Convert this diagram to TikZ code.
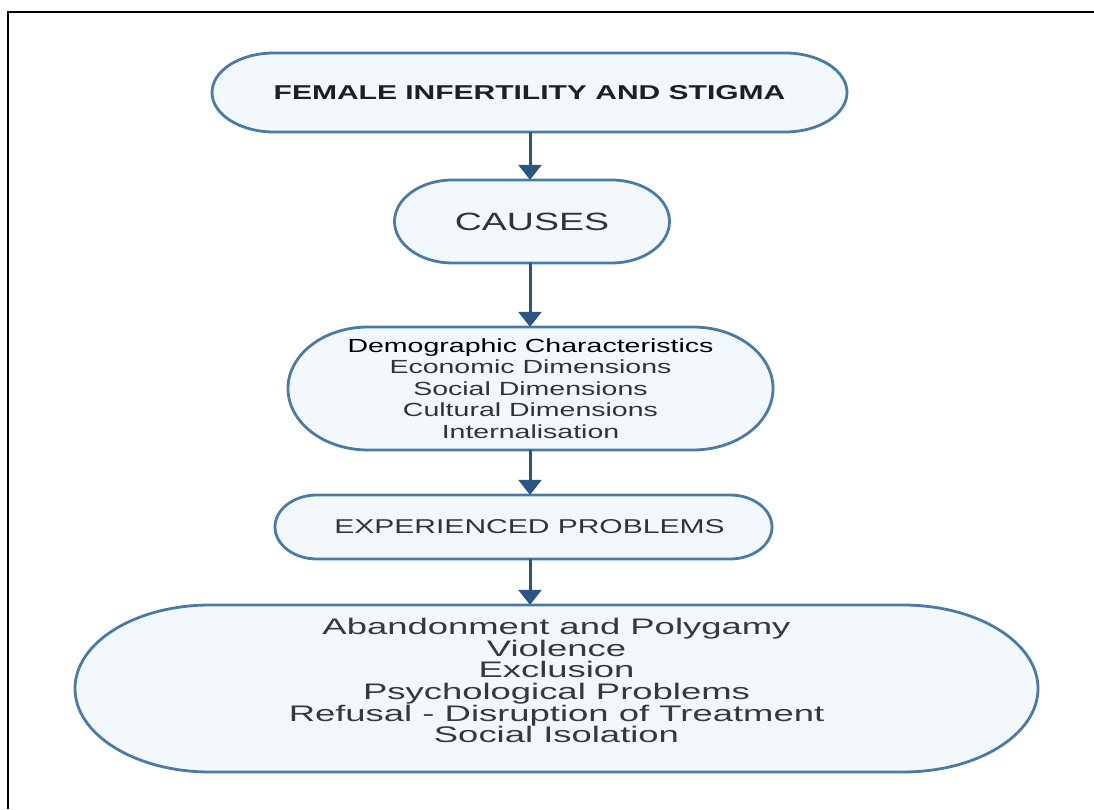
\documentclass[tikz,border=0pt]{standalone}
\usepackage{fontspec}
\setmainfont{Liberation Sans}[FakeStretch=1.5]
\newfontfamily\widefont{Liberation Sans}[FakeStretch=1.62]
\usetikzlibrary{arrows.meta}
\definecolor{edgec}{HTML}{4A7BA6}
\definecolor{arrowc}{HTML}{2B5584}
\definecolor{fillc}{HTML}{F3F8FC}
\definecolor{txtc}{HTML}{333333}
% cx, cy, half width, half height, end radius
\newcommand\stadium[5]{%
  \filldraw[stad] (#1-#3+#5,#2+#4) -- (#1+#3-#5,#2+#4)
    arc[start angle=90,end angle=-90,x radius=#5pt,y radius=#4pt]
    -- (#1-#3+#5,#2-#4)
    arc[start angle=270,end angle=90,x radius=#5pt,y radius=#4pt] -- cycle;}
\begin{document}
\begin{tikzpicture}[x=1pt,y=1pt,
  stad/.style={draw=edgec, fill=fillc, line width=2.8pt},
  lbl/.style={draw=none, fill=none, inner sep=0pt, align=center, text=txtc},
  arr/.style={draw=arrowc, line width=3pt, -{Triangle[width=23pt,length=15pt]}}]
\useasboundingbox (0,0) rectangle (1094,809);
\draw[line width=2pt] (8,0) -- (8,797) -- (1094,797);

\stadium{529.5}{716.5}{317.5}{39.5}{62}
\node[lbl, minimum width=635pt, minimum height=79pt, text=black!88,
  font=\fontsize{20}{24}\selectfont\bfseries] (top) at (529.5,716.5)
  {FEMALE INFERTILITY AND STIGMA};

\stadium{532}{587.5}{137.5}{41.5}{58}
\node[lbl, minimum width=275pt, minimum height=83pt,
  font=\fontsize{25}{30}\selectfont] (causes) at (532,587.5) {CAUSES};

\stadium{530.5}{420.5}{242.5}{61.5}{80}
\node[lbl, minimum width=485pt, minimum height=123pt,
  font={\fontsize{19}{21.5}\selectfont\lineskiplimit=-50pt}] (factors) at (530.5,420.5)
  {\textcolor{black}{Demographic Characteristics}\\Economic Dimensions\\Social Dimensions\\Cultural Dimensions\\Internalisation};

\stadium{523.5}{282}{248.5}{32}{42}
\node[lbl, minimum width=497pt, minimum height=64pt,
  font=\fontsize{20}{24}\selectfont] (exp) at (523.5,282)
  {\hspace*{12pt}EXPERIENCED PROBLEMS};

\stadium{556.5}{120.5}{481.5}{83.5}{135}
\node[lbl, minimum width=963pt, minimum height=167pt, text=black!78,
  font={\widefont\fontsize{22.5}{21.6}\selectfont\lineskiplimit=-50pt}] (effects) at (556.5,120.5)
  {Abandonment and Polygamy\\Violence\\Exclusion\\Psychological Problems\\Refusal - Disruption of Treatment\\Social Isolation\rule[-16pt]{0pt}{16pt}};

\coordinate (ax) at (530,0);
\draw[arr] (top.south -| ax) -- (causes.north -| ax);
\draw[arr] (causes.south -| ax) -- (factors.north -| ax);
\draw[arr] (factors.south -| ax) -- (exp.north -| ax);
\draw[arr] (exp.south -| ax) -- (effects.north -| ax);
\end{tikzpicture}
\end{document}
